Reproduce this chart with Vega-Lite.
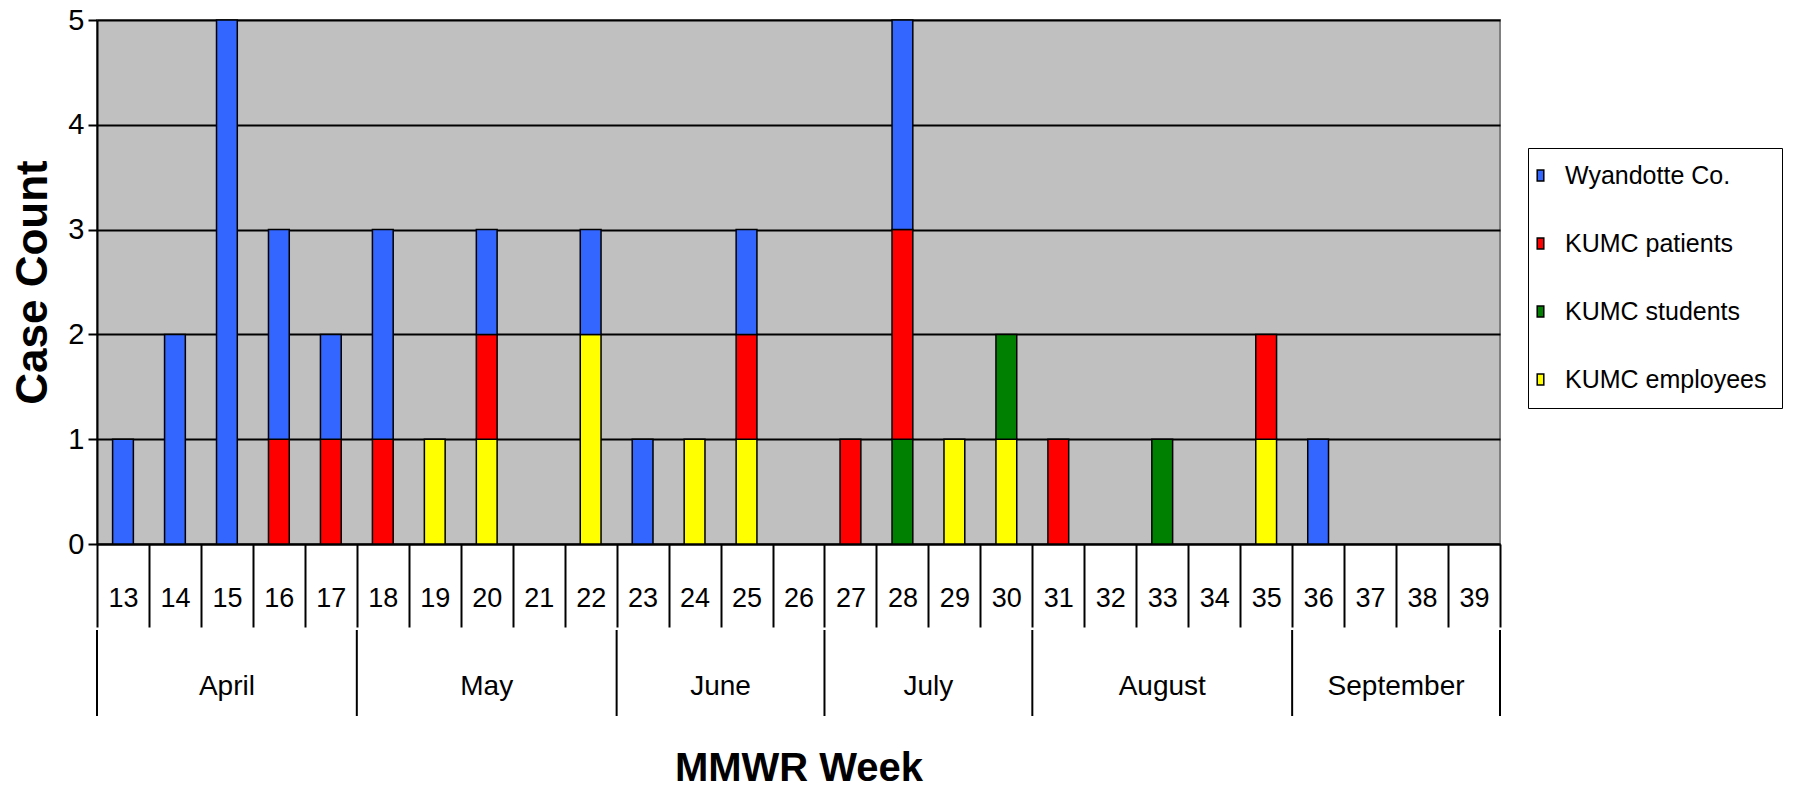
{
  "$schema": "https://vega.github.io/schema/vega-lite/v6.json",
  "padding": {"left": 10, "top": 5, "right": 5, "bottom": 5},
  "background": "white",
  "config": {
    "font": "Liberation Sans",
    "view": {"stroke": null},
    "concat": {"spacing": 0}
  },
  "datasets": {
    "cases": [
      {"week": 13, "group": "Wyandotte Co.", "count": 1},
      {"week": 14, "group": "Wyandotte Co.", "count": 2},
      {"week": 15, "group": "Wyandotte Co.", "count": 5},
      {"week": 16, "group": "KUMC patients", "count": 1},
      {"week": 16, "group": "Wyandotte Co.", "count": 2},
      {"week": 17, "group": "KUMC patients", "count": 1},
      {"week": 17, "group": "Wyandotte Co.", "count": 1},
      {"week": 18, "group": "KUMC patients", "count": 1},
      {"week": 18, "group": "Wyandotte Co.", "count": 2},
      {"week": 19, "group": "KUMC employees", "count": 1},
      {"week": 20, "group": "KUMC employees", "count": 1},
      {"week": 20, "group": "KUMC patients", "count": 1},
      {"week": 20, "group": "Wyandotte Co.", "count": 1},
      {"week": 22, "group": "KUMC employees", "count": 2},
      {"week": 22, "group": "Wyandotte Co.", "count": 1},
      {"week": 23, "group": "Wyandotte Co.", "count": 1},
      {"week": 24, "group": "KUMC employees", "count": 1},
      {"week": 25, "group": "KUMC employees", "count": 1},
      {"week": 25, "group": "KUMC patients", "count": 1},
      {"week": 25, "group": "Wyandotte Co.", "count": 1},
      {"week": 27, "group": "KUMC patients", "count": 1},
      {"week": 28, "group": "KUMC students", "count": 1},
      {"week": 28, "group": "KUMC patients", "count": 2},
      {"week": 28, "group": "Wyandotte Co.", "count": 2},
      {"week": 29, "group": "KUMC employees", "count": 1},
      {"week": 30, "group": "KUMC employees", "count": 1},
      {"week": 30, "group": "KUMC students", "count": 1},
      {"week": 31, "group": "KUMC patients", "count": 1},
      {"week": 33, "group": "KUMC students", "count": 1},
      {"week": 35, "group": "KUMC employees", "count": 1},
      {"week": 35, "group": "KUMC patients", "count": 1},
      {"week": 36, "group": "Wyandotte Co.", "count": 1}
    ],
    "groups": [
      {"group": "KUMC employees", "rank": 1},
      {"group": "KUMC students", "rank": 2},
      {"group": "KUMC patients", "rank": 3},
      {"group": "Wyandotte Co.", "rank": 4}
    ],
    "months": [
      {"month": "April", "pos": 15},
      {"month": "May", "pos": 20},
      {"month": "June", "pos": 24.5},
      {"month": "July", "pos": 28.5},
      {"month": "August", "pos": 33},
      {"month": "September", "pos": 37.5}
    ],
    "bounds": [
      {"pos": 12.5}, {"pos": 17.5}, {"pos": 22.5}, {"pos": 26.5},
      {"pos": 30.5}, {"pos": 35.5}, {"pos": 39.5}
    ]
  },
  "spacing": 0,
  "vconcat": [
    {
      "width": 1403,
      "height": 524,
      "view": {"fill": "#C0C0C0", "stroke": "#808080", "strokeWidth": 2},
      "data": {"name": "cases"},
      "transform": [
        {"lookup": "group", "from": {"data": {"name": "groups"}, "key": "group", "fields": ["rank"]}}
      ],
      "mark": {"type": "bar", "stroke": "black", "strokeWidth": 1.5, "width": {"band": 0.4}},
      "encoding": {
        "x": {
          "field": "week",
          "type": "ordinal",
          "scale": {
            "domain": [13,14,15,16,17,18,19,20,21,22,23,24,25,26,27,28,29,30,31,32,33,34,35,36,37,38,39],
            "paddingInner": 0,
            "paddingOuter": 0
          },
          "axis": {
            "title": null,
            "tickBand": "extent",
            "tickSize": 83,
            "tickColor": "black",
            "tickWidth": 2,
            "domainColor": "black",
            "domainWidth": 2,
            "labelAngle": 0,
            "labelFontSize": 27,
            "labelPadding": -42,
            "labelColor": "black",
            "grid": false
          }
        },
        "y": {
          "field": "count",
          "type": "quantitative",
          "stack": "zero",
          "scale": {"domain": [0, 5], "nice": false},
          "axis": {
            "title": "Case Count",
            "titleFontSize": 44,
            "titleFontWeight": "bold",
            "titleColor": "black",
            "titlePadding": 12,
            "values": [0, 1, 2, 3, 4, 5],
            "tickSize": 9,
            "tickColor": "black",
            "tickWidth": 2,
            "domainColor": "black",
            "domainWidth": 2,
            "labelFontSize": 29,
            "labelColor": "black",
            "labelPadding": 4,
            "gridColor": "black",
            "gridWidth": 2,
            "gridOpacity": 1
          }
        },
        "color": {
          "field": "group",
          "type": "nominal",
          "scale": {
            "domain": ["Wyandotte Co.", "KUMC patients", "KUMC students", "KUMC employees"],
            "range": ["#3366FF", "#FF0000", "#008000", "#FFFF00"]
          },
          "legend": {
            "title": null,
            "orient": "none",
            "legendX": 1431,
            "legendY": 128,
            "strokeColor": "black",
            "fillColor": "white",
            "padding": 15,
            "symbolOffset": -15,
            "labelFontSize": 25,
            "labelLimit": 0,
            "labelColor": "black",
            "labelOffset": 12,
            "symbolType": "M-0.3,-0.5H0.3V0.5H-0.3Z",
            "symbolSize": 484,
            "symbolStrokeColor": "black",
            "symbolStrokeWidth": 1.5,
            "symbolOpacity": 1,
            "rowPadding": 42
          }
        },
        "order": {"field": "rank", "type": "quantitative", "sort": "ascending"}
      }
    },
    {
      "width": 1403,
      "height": 86,
      "view": {"stroke": null, "fill": null},
      "encoding": {
        "x": {
          "field": "pos",
          "type": "quantitative",
          "scale": {"domain": [12.5, 39.5], "nice": false, "zero": false},
          "axis": {
            "title": "MMWR Week",
            "titleFontSize": 40,
            "titleFontWeight": "bold",
            "titleColor": "black",
            "titlePadding": 32,
            "labels": false,
            "ticks": false,
            "domain": false,
            "grid": false
          }
        }
      },
      "layer": [
        {
          "data": {"name": "bounds"},
          "mark": {"type": "rule", "color": "black", "strokeWidth": 2}
        },
        {
          "data": {"name": "months"},
          "mark": {"type": "text", "fontSize": 28, "color": "black", "dy": 14},
          "encoding": {
            "text": {"field": "month"}
          }
        }
      ]
    }
  ]
}
